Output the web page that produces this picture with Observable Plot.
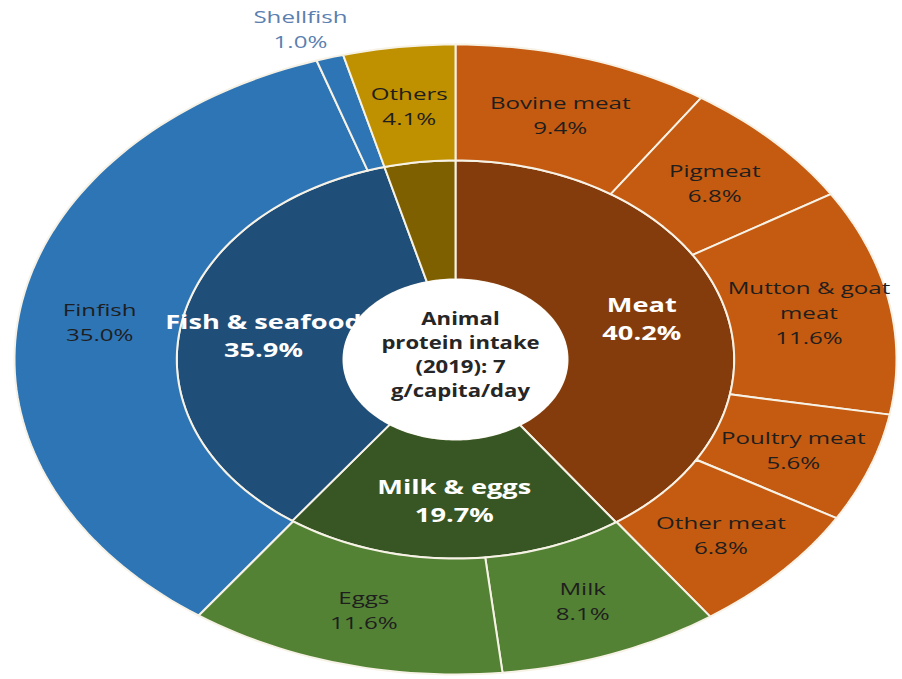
<!DOCTYPE html>
<html><head><meta charset="utf-8">
<script src="https://cdn.jsdelivr.net/npm/d3@7"></script>
<script src="https://cdn.jsdelivr.net/npm/@observablehq/plot@0.6"></script>
<style>body{margin:0;background:#fff;} #chart svg{display:block;}</style>
</head><body><div id="chart"></div>
<script>
// ---- data ----
const groups = ["Meat", "Milk & eggs", "Fish & seafood", "Others"];
const groupShares = [40.2, 19.7, 35.9, 4.1];
const groupColors = ["#843c0c", "#375623", "#1f4e79", "#7f6000"];
const groupLabelShown = [true, true, true, false];
const items = ["Bovine meat", "Pigmeat", "Mutton & goat\nmeat", "Poultry meat", "Other meat", "Milk", "Eggs", "Finfish", "Shellfish", "Others"];
const itemGroups = ["Meat", "Meat", "Meat", "Meat", "Meat", "Milk & eggs", "Milk & eggs", "Fish & seafood", "Fish & seafood", "Others"];
const itemShares = [9.4, 6.8, 11.6, 5.6, 6.8, 8.1, 11.6, 35.0, 1.0, 4.1];
const itemColorsByGroup = {"Meat": "#c55a11", "Milk & eggs": "#548235", "Fish & seafood": "#2e75b6", "Others": "#bf9000"};
const centerLabel = "Animal\nprotein intake\n(2019): 7\ng/capita/day";

// ---- layout ----
const W = 902, H = 679, CX = 455, CY = 359, RX = 441, RY = 315;
const R_HOLE = 0.254, R_MID = 0.632, R_OUT = 1;
const SEP = "#f7f2e6";
const FONT = "'Open Sans', 'DejaVu Sans', sans-serif";

function pt(frac, r) {
  const a = 2 * Math.PI * frac;
  return {x: r * RX * Math.sin(a), y: r * RY * Math.cos(a)};
}
function ring(names, shares, colors, r0, r1) {
  const total = d3.sum(shares);
  let c = 0;
  return names.map((n, i) => {
    const f0 = c / total; c += shares[i]; const f1 = c / total;
    return {name: n, share: shares[i], f0, f1, mid: (f0 + f1) / 2, color: colors[i], r0, r1};
  });
}
function arcPoints(arc, key) {
  const n = Math.max(2, Math.ceil((arc.f1 - arc.f0) * 240));
  const pts = [];
  for (let k = 0; k <= n; k++) pts.push({id: key, color: arc.color, ...pt(arc.f0 + (arc.f1 - arc.f0) * k / n, arc.r1)});
  for (let k = n; k >= 0; k--) pts.push({id: key, color: arc.color, ...pt(arc.f0 + (arc.f1 - arc.f0) * k / n, arc.r0)});
  pts.push({...pts[0]});
  return pts;
}

const innerArcs = ring(groups, groupShares, groupColors, R_HOLE, R_MID);
const outerArcs = ring(items, itemShares, itemGroups.map(g => itemColorsByGroup[g]), R_MID, R_OUT);
const ringPts = [
  ...innerArcs.flatMap((a, i) => arcPoints(a, "in" + i)),
  ...outerArcs.flatMap((a, i) => arcPoints(a, "out" + i))
];
const holePts = d3.range(0, 1.0001, 1 / 200).map(f => pt(f, R_HOLE));

const fmt = v => v.toFixed(1) + "%";
const outerLabels = outerArcs.filter(a => a.share >= 2).map(a => ({text: a.name + "\n" + fmt(a.share), ...pt(a.mid, (R_MID + R_OUT) / 2)}));
const outsideLabels = outerArcs.filter(a => a.share < 2).map(a => ({text: a.name + "\n" + fmt(a.share), ...pt(a.mid, 1.09)}));
const innerLabels = innerArcs.filter((a, i) => groupLabelShown[i]).map(a => ({text: a.name + "\n" + fmt(a.share), ...pt(a.mid, (R_HOLE + R_MID) / 2)}));

const chart = Plot.plot({
  width: W, height: H,
  margin: 0,
  x: {domain: [-CX, W - CX], axis: null},
  y: {domain: [-(H - CY), CY], axis: null},
  color: {type: "identity"},
  marks: [
    Plot.line(ringPts, {x: "x", y: "y", z: "id", fill: "color", stroke: SEP, strokeWidth: 2, curve: "linear", strokeLinejoin: "round"}),
    Plot.text(outerLabels, {x: "x", y: "y", text: "text", fill: "#1e1e1e", fontSize: 17, fontWeight: 500, lineHeight: 1.47, fontFamily: FONT}),
    Plot.text(outsideLabels, {x: "x", y: "y", text: "text", fill: "#5b7fb0", fontSize: 17, fontWeight: 500, lineHeight: 1.47, fontFamily: FONT, dx: -18, dy: -3}),
    Plot.text(innerLabels, {x: "x", y: "y", text: "text", fill: "white", fontSize: 20, fontWeight: "bold", lineHeight: 1.4, fontFamily: FONT}),
    Plot.line(holePts, {x: "x", y: "y", fill: "white", stroke: "white", strokeWidth: 1}),
    Plot.text([centerLabel], {x: () => 0, y: () => 0, text: d => d, fill: "#262626", fontSize: 17, fontWeight: "bold", lineHeight: 1.42, fontFamily: FONT, dx: 5, dy: -6})
  ]
});

// horizontal stretch of labels (the reference is stretched horizontally)
const scales = [1.42, 1.42, 1.36, 1.3];
chart.querySelectorAll('g[aria-label="text"]').forEach((g, gi) => {
  const s = scales[gi] ?? 1.4;
  g.querySelectorAll("text").forEach(t => {
    const tr = t.getAttribute("transform");
    if (tr) {
      t.setAttribute("transform", tr + ` scale(${s},1)`);
    } else {
      const x = +t.getAttribute("x") || 0, y = +t.getAttribute("y") || 0;
      t.removeAttribute("x"); t.removeAttribute("y");
      t.querySelectorAll("tspan").forEach(ts => { if (ts.hasAttribute("x")) ts.setAttribute("x", 0); });
      t.setAttribute("transform", `translate(${x},${y}) scale(${s},1)`);
    }
  });
});
document.getElementById("chart").appendChild(chart);
</script>
</body></html>
